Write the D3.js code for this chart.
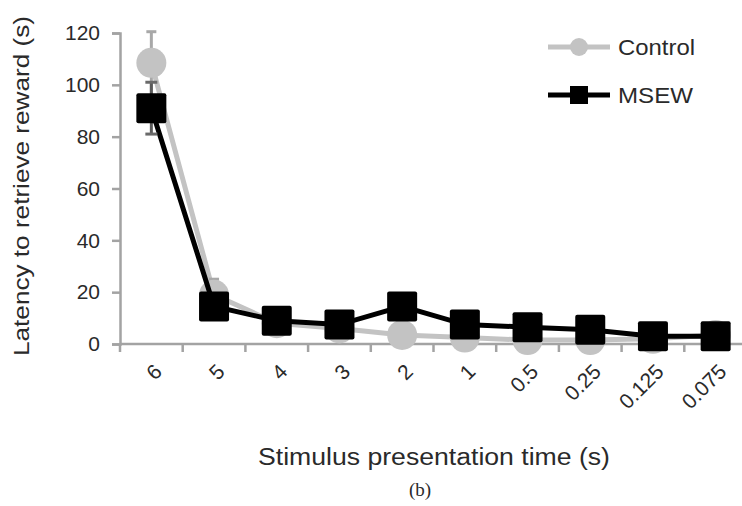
<!DOCTYPE html>
<html>
<head>
<meta charset="utf-8">
<script src="https://cdn.jsdelivr.net/npm/d3@7"></script>
<style>
  html, body { margin: 0; padding: 0; background: #fff; }
  svg { display: block; }
  text { font-family: "Liberation Sans", Arial, Helvetica, sans-serif; fill: #2a2a2a; }
</style>
</head>
<body>
<svg id="chart" width="742" height="506"></svg>
<script>
// ---- data ----
const categories = ["6", "5", "4", "3", "2", "1", "0.5", "0.25", "0.125", "0.075"];
const controlValues = [108.5, 19, 8, 6, 3.5, 2.5, 1.5, 1.5, 2, 3.5];
const controlErrors = [12, 6, 2, 2, 2, 1.5, 1, 1, 1, 1];
const msewValues = [91, 14.5, 9, 7.5, 14.5, 7.5, 6.5, 5.5, 3, 3];
const msewErrors = [10, 3, 2, 2, 3, 2, 2, 2, 1, 1];
const yTicks = [0, 20, 40, 60, 80, 100, 120];
const seriesNames = ["Control", "MSEW"];

const svg = d3.select("#chart");

const plotLeft = 120, plotTop = 33, plotBottom = 344, bandW = 62.7;
const x = d3.scaleBand().domain(categories).range([plotLeft, plotLeft + bandW * categories.length]).padding(0);
const y = d3.scaleLinear().domain([0, 120]).range([plotBottom, plotTop]);
const cx = d => x(d) + x.bandwidth() / 2;

const axisColor = "#a3a3a3";

// y axis
const yAxis = svg.append("g").attr("transform", `translate(${plotLeft},0)`)
  .call(d3.axisLeft(y).tickValues(yTicks).tickSize(8).tickPadding(12).tickFormat(d3.format("d")));
yAxis.select(".domain").attr("stroke", axisColor).attr("stroke-width", 2.5);
yAxis.selectAll(".tick line").attr("stroke", axisColor).attr("stroke-width", 2.5);
yAxis.selectAll(".tick text").style("font-size", "21px").attr("fill", "#2a2a2a")
  .style("font-family", "'Liberation Sans', Arial, sans-serif");

// x axis line
svg.append("line")
  .attr("x1", plotLeft).attr("x2", x.range()[1]).attr("y1", plotBottom).attr("y2", plotBottom)
  .attr("stroke", axisColor).attr("stroke-width", 2.5);
// x boundary ticks
const boundaries = categories.map(d => x(d)).concat([x.range()[1]]);
svg.append("g").selectAll("line").data(boundaries).join("line")
  .attr("x1", d => d).attr("x2", d => d).attr("y1", plotBottom).attr("y2", plotBottom + 8)
  .attr("stroke", axisColor).attr("stroke-width", 2.5);
// x tick labels rotated
svg.append("g").selectAll("text").data(categories).join("text")
  .attr("transform", d => `translate(${cx(d) + 12},${plotBottom + 29}) rotate(-45)`)
  .attr("text-anchor", "end")
  .style("font-size", "21px")
  .text(d => d);

// axis titles
svg.append("text")
  .attr("transform", `translate(29,186) rotate(-90)`)
  .attr("text-anchor", "middle")
  .style("font-size", "22px")
  .attr("textLength", 340).attr("lengthAdjust", "spacingAndGlyphs")
  .text("Latency to retrieve reward (s)");

svg.append("text")
  .attr("x", 434).attr("y", 465)
  .attr("text-anchor", "middle")
  .style("font-size", "23px")
  .attr("textLength", 352).attr("lengthAdjust", "spacingAndGlyphs")
  .text("Stimulus presentation time (s)");

svg.append("text")
  .attr("x", 420).attr("y", 496)
  .attr("text-anchor", "middle")
  .style("font-size", "19px")
  .style("font-family", "'Liberation Serif', 'Times New Roman', serif")
  .text("(b)");

const line = d3.line().x((d, i) => cx(categories[i])).y(d => y(d));

// Control series
const gray = "#c3c3c3";
svg.append("path").datum(controlValues)
  .attr("d", line).attr("fill", "none").attr("stroke", gray).attr("stroke-width", 5);
const cErr = svg.append("g");
controlValues.forEach((v, i) => {
  const xc = cx(categories[i]);
  cErr.append("line").attr("x1", xc).attr("x2", xc).attr("y1", y(v - controlErrors[i])).attr("y2", y(v + controlErrors[i]))
    .attr("stroke", "#a8a8a8").attr("stroke-width", 3);
  cErr.append("line").attr("x1", xc - 5).attr("x2", xc + 5).attr("y1", y(v + controlErrors[i])).attr("y2", y(v + controlErrors[i]))
    .attr("stroke", "#a8a8a8").attr("stroke-width", 3);
});
svg.append("g").selectAll("circle").data(controlValues).join("circle")
  .attr("cx", (d, i) => cx(categories[i])).attr("cy", d => y(d)).attr("r", 15)
  .attr("fill", gray);

// MSEW series
svg.append("path").datum(msewValues)
  .attr("d", line).attr("fill", "none").attr("stroke", "#000").attr("stroke-width", 5);
const mErr = svg.append("g");
msewValues.forEach((v, i) => {
  const xc = cx(categories[i]);
  const lo = y(v - msewErrors[i]), hi = y(v + msewErrors[i]);
  mErr.append("line").attr("x1", xc).attr("x2", xc).attr("y1", lo).attr("y2", hi)
    .attr("stroke", "#5a5a5a").attr("stroke-width", 3);
  [lo, hi].forEach(yy => mErr.append("line").attr("x1", xc - 6).attr("x2", xc + 6).attr("y1", yy).attr("y2", yy)
    .attr("stroke", "#6a6a6a").attr("stroke-width", 3));
});
const sq = 30;
svg.append("g").selectAll("rect").data(msewValues).join("rect")
  .attr("x", (d, i) => cx(categories[i]) - sq / 2).attr("y", d => y(d) - sq / 2)
  .attr("width", sq).attr("height", sq).attr("rx", 2)
  .attr("fill", "#000");

// legend
const legend = svg.append("g");
const lx1 = 548, lx2 = 610, lmid = 579;
const legendY = [47, 95];
const legendTextLen = [77, 75];
legend.append("line").attr("x1", lx1).attr("x2", lx2).attr("y1", legendY[0]).attr("y2", legendY[0])
  .attr("stroke", gray).attr("stroke-width", 5);
legend.append("circle").attr("cx", lmid).attr("cy", legendY[0]).attr("r", 9).attr("fill", gray);
legend.append("line").attr("x1", lx1).attr("x2", lx2).attr("y1", legendY[1]).attr("y2", legendY[1])
  .attr("stroke", "#000").attr("stroke-width", 5);
legend.append("rect").attr("x", lmid - 9).attr("y", legendY[1] - 9).attr("width", 18).attr("height", 18).attr("fill", "#000");
legend.selectAll("text").data(seriesNames).join("text")
  .attr("x", 618).attr("y", (d, i) => legendY[i])
  .attr("dominant-baseline", "central")
  .style("font-size", "22px")
  .attr("textLength", (d, i) => legendTextLen[i]).attr("lengthAdjust", "spacingAndGlyphs")
  .text(d => d);
</script>
</body>
</html>
